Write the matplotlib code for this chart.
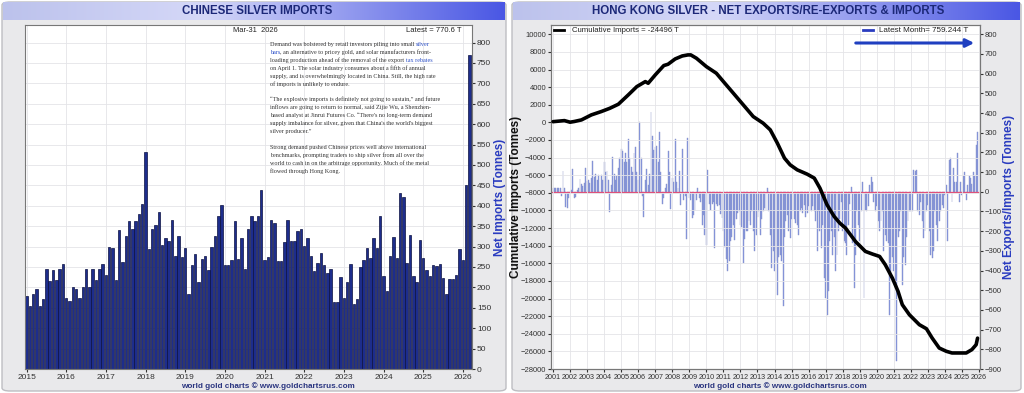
import matplotlib
matplotlib.use("Agg")
import matplotlib.pyplot as plt
import numpy as np
from matplotlib.colors import LinearSegmentedColormap
from matplotlib.patches import FancyBboxPatch

plt.rcParams['font.family'] = ['Liberation Sans', 'DejaVu Sans']

# ---- data: Chinese net silver imports (tonnes), monthly Jan 2015 .. Mar 2026
cn_start_year = 2015
cn_imports = [
    180, 154, 184, 196, 155, 171, 245, 215, 243, 219, 246, 257,   # 2015
    173, 167, 202, 196, 175, 202, 246, 202, 246, 219, 246, 257,   # 2016
    230, 300, 296, 218, 340, 262, 327, 363, 343, 363, 380, 404,   # 2017
    531, 295, 344, 354, 385, 303, 322, 313, 365, 277, 326, 275,   # 2018
    297, 185, 255, 282, 212, 269, 277, 243, 300, 327, 375, 402,   # 2019
    256, 256, 268, 362, 269, 320, 246, 343, 376, 362, 376, 438,   # 2020
    268, 274, 365, 358, 264, 264, 310, 365, 313, 313, 337, 343,   # 2021
    301, 322, 277, 240, 259, 285, 256, 235, 245, 165, 164, 225,   # 2022
    175, 212, 257, 160, 171, 250, 268, 297, 273, 320, 296, 376,   # 2023
    227, 191, 278, 324, 271, 432, 422, 260, 328, 227, 213, 315,   # 2024
    271, 242, 229, 256, 253, 257, 224, 184, 220, 220, 230, 293,   # 2025
    266, 451, 770,                                                # 2026
]
cn_years = list(range(2015, 2027))

# ---- data: Hong Kong net exports/imports (tonnes), monthly Jan 2001 .. Dec 2025
hk_start_year = 2001
hk_net = [
    18, 18, 18, 18, 18, 18, -20, 108, 20, -75, -80, -30,              # 2001
    5, 10, 117, -30, -25, 10, 20, 66, 40, 30, 45, 120,                # 2002
    55, 60, 45, 70, 154, 75, 90, 60, 86, -5, 86, 60,                  # 2003
    149, 100, 105, 60, -105, 35, 179, 90, 60, 80, 120, 170,           # 2004
    215, 208, 150, 196, 149, 270, 170, 128, 100, 196, 225, 103,       # 2005
    60, 352, 170, -20, -127, 60, 117, 35, 90, 404, 281, 213,          # 2006
    225, 230, 149, 303, 100, -61, -30, 20, 40, 205, 100, -86,         # 2007
    70, 50, 267, 50, 20, 107, -66, 217, -40, -20, -239, 272,          # 2008
    -30, -40, -134, -120, -100, -40, 19, -30, -50, -167, -120, -218,  # 2009
    -272, 112, -60, -90, -60, -50, -286, -60, -70, -65, -115, -135,   # 2010
    -201, -280, -340, -404, -354, -250, -230, -170, -244, -140, -110, -100,  # 2011
    -170, -180, -362, -240, -200, -200, -150, -170, -100, -200, -303, -220,  # 2012
    -130, -100, -218, -140, -100, -80, -90, 19, -100, -218, -387, -300,      # 2013
    -404, -350, -523, -330, -320, -350, -582, -230, -150, -120, -200, -235,  # 2014
    -140, -100, -140, -160, -170, -218, -100, -80, -110, -65, -130, -110,    # 2015
    -70, -100, -100, -70, -100, -150, -303, -100, -200, -286, -170, -438,    # 2016
    -540, -624, -506, -250, -200, -320, -230, -404, -320, -200, -140, -50,   # 2017
    -200, -250, -260, -320, -170, -60, 24, -260, -489, -320, -100, -167,     # 2018
    -250, -100, 52, -540, -90, -100, -70, 36, 73, 50, -50, -100,             # 2019
    -70, -150, -200, -150, -100, -303, -220, -250, -260, -624, -440, -330,   # 2020
    -404, -450, -861, -230, -200, -100, -472, -330, -370, -230, -150, -100,  # 2021
    -100, -100, 112, 105, 112, -100, -120, -50, -150, -235, -200, -100,      # 2022
    -65, -200, -320, -337, -300, -100, -167, -250, -150, -100, -65, -80,     # 2023
    -15, 36, -252, 162, 171, -50, 120, 50, 50, 196, -50, 50,                 # 2024
    -15, 78, 103, -40, 36, 80, 70, 40, 100, 80, 239, 306,                    # 2025
]
hk_years = list(range(2001, 2027))

# cumulative imports line: (month index from Jan 2001, tonnes)
cum_month = [0, 8, 12, 15, 20, 27, 34, 40, 46, 53, 59, 65, 67, 72, 78, 81, 86, 91,
             95, 97, 101, 108, 115, 120, 127, 134, 141, 148, 153, 158, 163, 167,
             172, 179, 184, 188, 193, 198, 202, 206, 213, 220, 225, 230, 234, 239,
             243, 246, 251, 258, 263, 267, 272, 277, 281, 286, 291, 295, 298, 299]
cum_value = [80, 200, 20, 100, 280, 850, 1230, 1600, 2060, 3120, 4060, 4630, 4440,
             5390, 6450, 6600, 7200, 7540, 7660, 7660, 7280, 6330, 5580, 4630, 3310,
             1985, 660, -95, -850, -2360, -4060, -4820, -5390, -5880, -6330, -7470,
             -9360, -10680, -11440, -12000, -13520, -14650, -14950, -15220, -16160,
             -17680, -19190, -20700, -21840, -22970, -23430, -24480, -25620, -25990,
             -26180, -26180, -26180, -25800, -25240, -24496]

article = [
    [("Demand was bolstered by retail investors piling into small ", False), ("silver", True)],
    [("bars", True), (", an alternative to pricey gold, and solar manufacturers front-", False)],
    [("loading production ahead of the removal of the export ", False), ("tax rebates", True)],
    [("on April 1. The solar industry consumes about a fifth of annual", False)],
    [("supply, and is overwhelmingly located in China. Still, the high rate", False)],
    [("of imports is unlikely to endure.", False)],
    None,
    [("\u201cThe explosive imports is definitely not going to sustain,\u201d and future", False)],
    [("inflows are going to return to normal, said Zijie Wu, a Shenzhen-", False)],
    [("based analyst at Jinrui Futures Co. \u201cThere's no long-term demand", False)],
    [("supply imbalance for silver, given that China's the world's biggest", False)],
    [("silver producer.\u201d", False)],
    None,
    [("Strong demand pushed Chinese prices well above international", False)],
    [("benchmarks, prompting traders to ship silver from all over the", False)],
    [("world to cash in on the arbitrage opportunity. Much of the metal", False)],
    [("flowed through Hong Kong.", False)],
]

W, H = 1024, 393
fig = plt.figure(figsize=(W / 100, H / 100), dpi=100, facecolor='white')


def fx(px):
    return px / W


def fy(py):
    return 1 - py / H


# panel backgrounds
for x0, x1 in [(2, 506), (512, 1021)]:
    fig.patches.append(FancyBboxPatch((fx(x0), fy(391)), fx(x1 - x0), (391 - 2) / H,
                                      boxstyle="round,pad=0,rounding_size=0.008",
                                      transform=fig.transFigure, facecolor='#e9e9eb',
                                      edgecolor='#bdbdc2', linewidth=1.0, zorder=-10))

# title banners
cmap = LinearSegmentedColormap.from_list('banner', [(0, '#bcc2ec'), (0.4, '#d5d8f8'),
                                                    (1, '#4a57e4')])
grad = np.linspace(0, 1, 256).reshape(1, -1)
for x0, x1, title, cx in [(3, 505, 'CHINESE SILVER IMPORTS', 257),
                          (513, 1020, 'HONG KONG SILVER - NET EXPORTS/RE-EXPORTS & IMPORTS', 768)]:
    bax = fig.add_axes([fx(x0), fy(20), fx(x1 - x0), 18 / H])
    bax.imshow(grad, aspect='auto', cmap=cmap, extent=[0, 1, 0, 1])
    bax.set_axis_off()
    fig.text(fx(cx), fy(10.5), title, ha='center', va='center', fontsize=8.3,
             fontweight='bold', color='#1c2878')

# ---------------- left chart ----------------
ax1 = fig.add_axes([fx(25), fy(369), (472 - 25) / W, (369 - 25) / H])
cn_x = [cn_start_year + i / 12 for i in range(len(cn_imports))]
ax1.bar(cn_x, cn_imports, width=0.062, color='#1d2d8c', edgecolor='#0b1040',
        linewidth=0.5, zorder=2)
ax1.set_xlim(2014.96, 2026.23)
ax1.set_ylim(0, 843)
ax1.set_xticks(cn_years)
ax1.set_yticks(range(0, 801, 50))
ax1.yaxis.tick_right()
ax1.yaxis.set_label_position('right')
ax1.tick_params(labelsize=6, colors='#333333', length=2, pad=1.5)
ax1.set_ylabel('Net Imports (Tonnes)', color='#2a3cc0', fontsize=8.5, fontweight='bold')
ax1.yaxis.set_label_coords(1.049, 0.5)
ax1.grid(color='#e4e4e8', linewidth=0.6, zorder=0)
ax1.set_axisbelow(True)
for s in ax1.spines.values():
    s.set_color('#777777')
    s.set_linewidth(0.8)

fig.text(fx(255), fy(31), 'Mar-31  2026', ha='center', va='center', fontsize=5.4, color='#222222')
fig.text(fx(461), fy(31), 'Latest = 770.6 T', ha='right', va='center', fontsize=5.5, color='#222222')

# article excerpt
y = 46
for line in article:
    if line is None:
        y += 7.5
        continue
    prev = None
    for txt, link in line:
        col = '#2b4fc8' if link else '#333333'
        if prev is None:
            prev = fig.text(fx(270), fy(y), txt, ha='left', va='baseline',
                            fontsize=4.4, color=col, family='Liberation Serif')
        else:
            prev = ax1.annotate(txt, xy=(1, 0), xycoords=prev, ha='left', va='bottom',
                                fontsize=4.4, color=col, family='Liberation Serif',
                                annotation_clip=False)
    y += 8

fig.text(fx(268), fy(386), 'world gold charts \u00a9 www.goldchartsrus.com', ha='center',
         va='center', fontsize=5.9, fontweight='bold', color='#2a3580')

# ---------------- right chart ----------------
ax2 = fig.add_axes([fx(551), fy(369), (980 - 551) / W, (369 - 25) / H])
ax3 = ax2.twinx()
ax3.patch.set_visible(True)
ax3.patch.set_facecolor('white')
hk_x = [hk_start_year + i / 12 for i in range(len(hk_net))]
ax3.bar(hk_x, hk_net, width=0.055, color='#8193e2', edgecolor='#8a93c8',
        linewidth=0.3, zorder=2)
ax3.axhline(0, color='#e0507a', linewidth=0.9, zorder=3)
ax3.set_ylim(-900, 847)
ax3.set_yticks(range(-900, 801, 100))
ax3.tick_params(labelsize=5.5, colors='#333333', length=2, pad=1.5)
ax3.set_ylabel('Net Exports/Imports (Tonnes)', color='#2a3cc0', fontsize=8.5,
               fontweight='bold')
ax3.yaxis.set_label_coords(1.053, 0.5)

cum_x = [hk_start_year + m / 12 for m in cum_month]
ax2.plot(cum_x, cum_value, color='black', linewidth=2.6, solid_capstyle='round', zorder=4)
ax2.set_zorder(ax3.get_zorder() + 1)
ax2.patch.set_visible(False)
ax2.set_ylim(-28000, 11055)
ax2.set_yticks(range(-28000, 10001, 2000))
ax2.set_xlim(2000.88, 2026.06)
ax2.set_xticks(hk_years)
ax2.tick_params(axis='x', labelsize=5.2, colors='#333333', length=2, pad=1.5)
ax2.tick_params(axis='y', labelsize=5.5, colors='#333333', length=2, pad=1.5)
ax2.set_ylabel('Cumulative Imports (Tonnes)', color='#111111', fontsize=8.5,
               fontweight='bold')
ax2.yaxis.set_label_coords(-0.068, 0.5)
ax2.grid(color='#e4e4e8', linewidth=0.6)
for a in (ax2, ax3):
    for s in a.spines.values():
        s.set_color('#777777')
        s.set_linewidth(0.8)

# legend entries
ax2.plot([0.006, 0.03], [0.985, 0.985], transform=ax2.transAxes, color='black',
         linewidth=2, clip_on=False, zorder=5)
ax2.text(0.048, 0.985, 'Cumulative Imports = -24496 T', transform=ax2.transAxes,
         ha='left', va='center', fontsize=5.6, color='#222222')
ax2.plot([0.727, 0.751], [0.985, 0.985], transform=ax2.transAxes, color='#2a3cc0',
         linewidth=2, clip_on=False, zorder=5)
ax2.text(0.972, 0.985, 'Latest Month= 759.244 T', transform=ax2.transAxes,
         ha='right', va='center', fontsize=5.8, color='#222222')
ax2.annotate('', xy=(fx(977), fy(43)), xytext=(fx(853), fy(43)), xycoords='figure fraction',
             textcoords='figure fraction',
             arrowprops=dict(arrowstyle='-|>', color='#1f3fc0', lw=2.2, mutation_scale=12))

fig.text(fx(780), fy(386), 'world gold charts \u00a9 www.goldchartsrus.com', ha='center',
         va='center', fontsize=5.9, fontweight='bold', color='#2a3580')

fig.savefig('out.png', dpi=100, facecolor=fig.get_facecolor())
